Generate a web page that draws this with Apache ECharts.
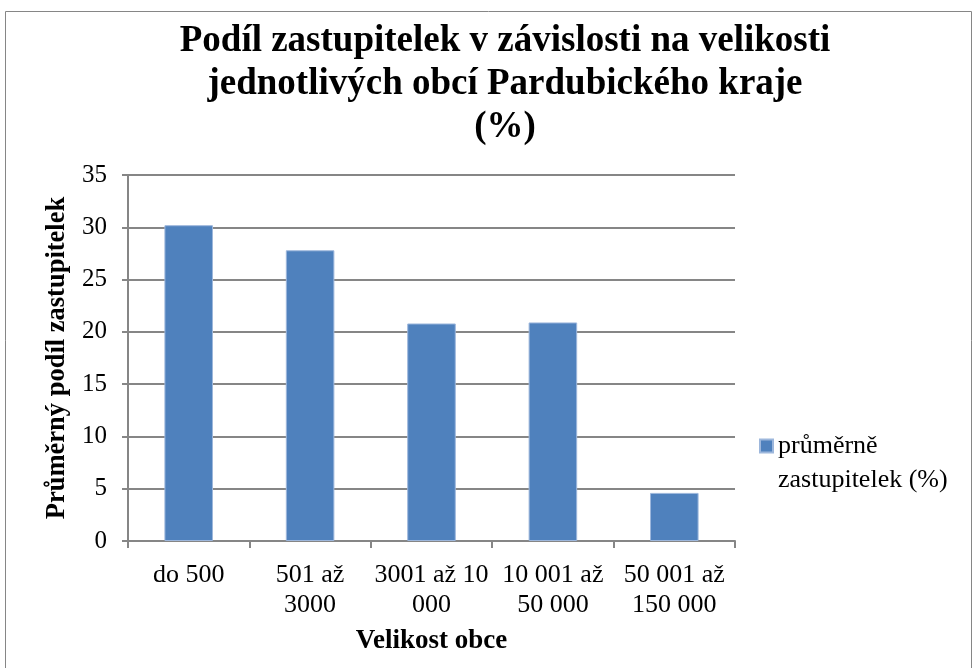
<!DOCTYPE html>
<html>
<head>
<meta charset="utf-8">
<script src="https://cdn.jsdelivr.net/npm/echarts@6/dist/echarts.min.js"></script>
<style>
    html, body {margin: 0; padding: 0; background: #fff;}
    #chart {width: 977px; height: 668px;}
</style>
</head>
<body>
<div id="chart"></div>
<script>
    const categories = ['do 500', '501 až\n3000', '3001 až 10\n000', '10 001 až\n50 000', '50 001 až\n150 000'];
    const values = [30.2, 27.8, 20.8, 20.9, 4.6];
    const seriesName = 'průměrně zastupitelek (%)';
    const serif = '"Liberation Serif", "Times New Roman", serif';

    const myChart = echarts.init(document.getElementById('chart'));
    const option = {
        backgroundColor: '#fff',
        animation: false,
        title: {
            text: 'Podíl zastupitelek v závislosti na velikosti\njednotlivých obcí Pardubického kraje\n(%)',
            left: 505,
            textAlign: 'center',
            top: 20,
            padding: 0,
            textStyle: {
                fontFamily: serif,
                fontWeight: 'bold',
                fontSize: 37,
                lineHeight: 43,
                color: '#000'
            }
        },
        legend: {
            data: [seriesName],
            left: 759,
            top: 395,
            padding: 0,
            itemWidth: 13,
            itemHeight: 13,
            icon: 'rect',
            formatter: function () {
                // prázdný první řádek, aby ikona stála u prvního řádku textu
                return '\nprůměrně\nzastupitelek (%)';
            },
            textStyle: {
                fontFamily: serif,
                fontSize: 26,
                lineHeight: 34,
                color: '#000'
            }
        },
        grid: {
            left: 128,
            right: 242,
            top: 175,
            bottom: 127
        },
        xAxis: {
            type: 'category',
            data: categories,
            name: 'Velikost obce',
            nameLocation: 'middle',
            nameGap: 87,
            nameTextStyle: {
                fontFamily: serif,
                fontWeight: 'bold',
                fontSize: 27,
                color: '#000'
            },
            axisLine: {lineStyle: {color: '#868686', width: 2}},
            axisTick: {show: true, length: 7, lineStyle: {color: '#868686', width: 2}},
            axisLabel: {
                interval: 0,
                margin: 19,
                fontFamily: serif,
                fontSize: 26,
                lineHeight: 30,
                color: '#000'
            }
        },
        yAxis: {
            type: 'value',
            min: 0,
            max: 35,
            interval: 5,
            name: 'Průměrný podíl zastupitelek',
            nameLocation: 'middle',
            nameGap: 54,
            nameTextStyle: {
                fontFamily: serif,
                fontWeight: 'bold',
                fontSize: 26.5,
                color: '#000'
            },
            axisLine: {show: true, lineStyle: {color: '#868686', width: 2}},
            axisTick: {show: true, length: 6, lineStyle: {color: '#868686', width: 2}},
            axisLabel: {
                margin: 21,
                fontFamily: serif,
                fontSize: 25,
                color: '#000'
            },
            splitLine: {lineStyle: {color: '#868686', width: 2}}
        },
        series: [{
            name: seriesName,
            type: 'bar',
            data: values,
            barWidth: '40%',
            itemStyle: {
                color: '#4F81BD',
                borderColor: '#9db7dc',
                borderWidth: 1
            }
        }],
        graphic: [{
            type: 'rect',
            shape: {x: 5.5, y: 11.5, width: 966, height: 680},
            style: {fill: 'none', stroke: '#868686', lineWidth: 1},
            silent: true
        }]
    };
    myChart.setOption(option);
</script>
</body>
</html>
